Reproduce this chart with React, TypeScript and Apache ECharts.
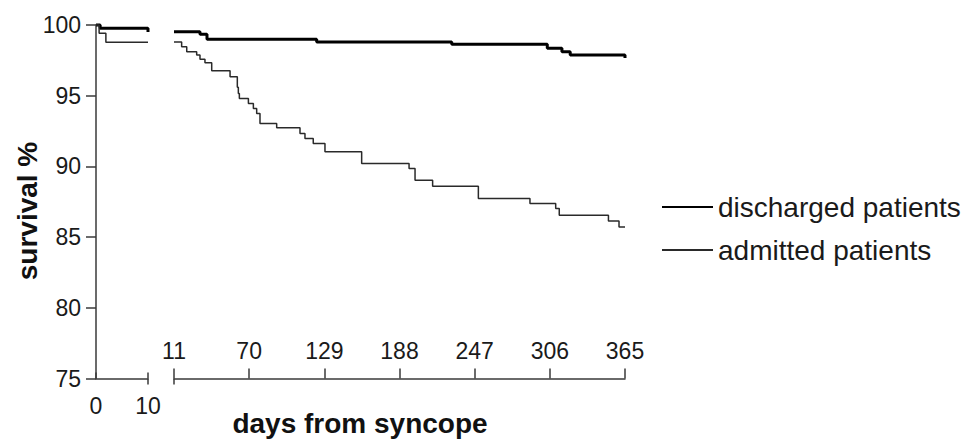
import React, { useEffect, useRef } from "react";
import * as echarts from "echarts";

// Segment 1: days 0-10
const dischargedEarlyDays = [0, 0.8, 10];
const dischargedEarlyValues = [100, 99.77, 99.5];
const admittedEarlyDays = [0, 0.6, 1.9, 10];
const admittedEarlyValues = [100, 99.41, 98.78, 98.78];

// Segment 2: days 11-365
const dischargedLateDays = [11, 31.4, 36.9, 123, 229, 304, 315.5, 322, 365];
const dischargedLateValues = [99.53, 99.35, 99.0, 98.8, 98.63, 98.35, 98.1, 97.88, 97.66];

const admittedLateDays = [
  11, 17, 21, 28.8, 31.4, 35.3, 40.6, 55, 60.7, 61.5, 62.3, 69.4, 73.3, 75.9, 78.5,
  91.6, 109.9, 113.8, 120.3, 129.5, 158.3, 195.5, 200.2, 214, 249.9, 290.4, 310.6,
  313.4, 352, 360.3, 365,
];
const admittedLateValues = [
  98.8, 98.47, 98.11, 97.88, 97.57, 97.33, 96.76, 96.34, 95.6, 95.15, 94.8, 94.45, 94.1,
  93.75, 93.04, 92.73, 92.33, 91.98, 91.62, 91.03, 90.2, 89.85, 89.02, 88.6, 87.73, 87.37,
  87.02, 86.54, 86.14, 85.72, 85.72,
];

const earlyTicks = [0, 10];
const lateStart = 11;
const lateEnd = 365;
const lateStep = 59;
const yMin = 75;
const yMax = 100;
const yStep = 5;

const seriesNames = ["discharged patients", "admitted patients"];
const xTitle = "days from syncope";
const yTitle = "survival %";

const FONT = "'Liberation Sans', Arial, Helvetica, sans-serif";
const AXIS_COLOR = "#3a3a3a";
const TEXT_COLOR = "#1a1a1a";

const zip = (xs: number[], ys: number[], offset = 0) => xs.map((x, i) => [x - offset, ys[i]]);

export default function App() {
  const ref = useRef<HTMLDivElement>(null);
  useEffect(() => {
    if (!ref.current) return;
    const chart = echarts.init(ref.current, undefined, { renderer: "svg" });
    const axisLine = { show: true, lineStyle: { color: AXIS_COLOR, width: 1.5 } };
    const labelStyle = { fontFamily: FONT, fontSize: 23, color: TEXT_COLOR };
    chart.setOption({
      animation: false,
      backgroundColor: "#ffffff",
      grid: [
        { left: 96, top: 25, width: 52, height: 353.5 },
        { left: 174, top: 25, width: 451, height: 353.5 },
      ],
      xAxis: [
        {
          type: "value",
          gridIndex: 0,
          min: earlyTicks[0],
          max: earlyTicks[1],
          interval: earlyTicks[1] - earlyTicks[0],
          axisLine,
          axisTick: { show: true, inside: true, length: 6, lineStyle: { color: AXIS_COLOR, width: 1.5 } },
          axisLabel: { ...labelStyle, margin: 16 },
          splitLine: { show: false },
        },
        {
          type: "value",
          gridIndex: 0,
          position: "bottom",
          min: earlyTicks[0],
          max: earlyTicks[1],
          axisLine: { show: false },
          axisTick: {
            show: true,
            inside: false,
            length: 6,
            customValues: [earlyTicks[1]],
            lineStyle: { color: AXIS_COLOR, width: 1.5 },
          },
          axisLabel: { show: false },
          splitLine: { show: false },
        },
        {
          type: "value",
          gridIndex: 1,
          min: 0,
          max: lateEnd - lateStart,
          interval: lateStep,
          axisLine,
          axisTick: { show: true, inside: true, length: 10, lineStyle: { color: AXIS_COLOR, width: 1.5 } },
          axisLabel: {
            ...labelStyle,
            inside: true,
            margin: 16,
            formatter: (v: number) => String(Math.round(v + lateStart)),
          },
          splitLine: { show: false },
        },
        {
          type: "value",
          gridIndex: 1,
          position: "bottom",
          min: 0,
          max: lateEnd - lateStart,
          axisLine: { show: false },
          axisTick: {
            show: true,
            inside: false,
            length: 6,
            customValues: [0],
            lineStyle: { color: AXIS_COLOR, width: 1.5 },
          },
          axisLabel: { show: false },
          splitLine: { show: false },
        },
      ],
      yAxis: [
        {
          type: "value",
          gridIndex: 0,
          min: yMin,
          max: yMax,
          interval: yStep,
          axisLine,
          axisTick: { show: true, length: 10, lineStyle: { color: AXIS_COLOR, width: 1.5 } },
          axisLabel: { ...labelStyle, margin: 15 },
          splitLine: { show: false },
        },
        {
          type: "value",
          gridIndex: 1,
          min: yMin,
          max: yMax,
          show: false,
          splitLine: { show: false },
        },
      ],
      legend: {
        orient: "vertical",
        left: 661,
        top: 193,
        padding: 0,
        itemWidth: 51,
        itemHeight: 14,
        itemGap: 15,
        itemStyle: { opacity: 0 },
        textStyle: { fontFamily: FONT, fontSize: 28, color: TEXT_COLOR },
        data: seriesNames,
        selectedMode: false,
      },
      graphic: [
        {
          type: "text",
          x: 360,
          y: 423,
          style: {
            text: xTitle,
            fontFamily: FONT,
            fontSize: 28,
            fontWeight: "bold",
            fill: "#111",
            align: "center",
            verticalAlign: "middle",
          },
        },
        {
          type: "text",
          x: 27.5,
          y: 211,
          rotation: Math.PI / 2,
          style: {
            text: yTitle,
            fontFamily: FONT,
            fontSize: 28,
            fontWeight: "bold",
            fill: "#111",
            align: "center",
            verticalAlign: "middle",
          },
        },
      ],
      series: [
        {
          name: seriesNames[0],
          type: "line",
          xAxisIndex: 0,
          yAxisIndex: 0,
          step: "end",
          showSymbol: false,
          symbol: "none",
          clip: false,
          lineStyle: { color: "#000", width: 3 },
          itemStyle: { color: "#000" },
          data: zip(dischargedEarlyDays, dischargedEarlyValues),
        },
        {
          name: seriesNames[1],
          type: "line",
          xAxisIndex: 0,
          yAxisIndex: 0,
          step: "end",
          showSymbol: false,
          symbol: "none",
          clip: false,
          lineStyle: { color: "#2a2a2a", width: 1.5 },
          itemStyle: { color: "#2a2a2a" },
          data: zip(admittedEarlyDays, admittedEarlyValues),
        },
        {
          name: seriesNames[0],
          type: "line",
          xAxisIndex: 2,
          yAxisIndex: 1,
          step: "end",
          showSymbol: false,
          symbol: "none",
          clip: false,
          lineStyle: { color: "#000", width: 3 },
          itemStyle: { color: "#000" },
          data: zip(dischargedLateDays, dischargedLateValues, lateStart),
        },
        {
          name: seriesNames[1],
          type: "line",
          xAxisIndex: 2,
          yAxisIndex: 1,
          step: "end",
          showSymbol: false,
          symbol: "none",
          clip: false,
          lineStyle: { color: "#2a2a2a", width: 1.5 },
          itemStyle: { color: "#2a2a2a" },
          data: zip(admittedLateDays, admittedLateValues, lateStart),
        },
      ],
    });
    return () => chart.dispose();
  }, []);
  return <div ref={ref} style={{ width: 971, height: 441, position: "absolute", left: 0, top: 0 }} />;
}
